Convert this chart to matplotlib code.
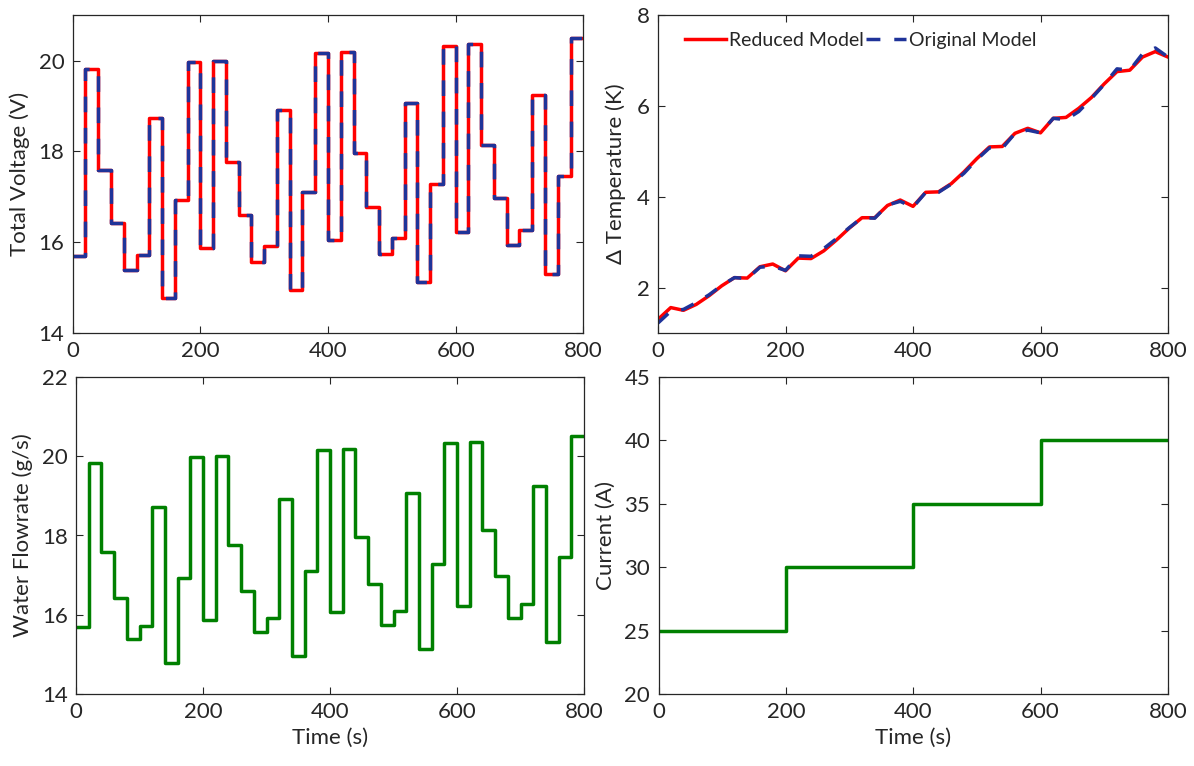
import numpy as np
import matplotlib
matplotlib.use("Agg")
import matplotlib.pyplot as plt

# ---------------- data ----------------
step_times = np.arange(0, 820, 20)  # segment edges 0..800

voltage = [15.70, 19.82, 17.59, 16.43, 15.38, 15.72, 18.73, 14.78, 16.92, 19.97,
           15.87, 20.00, 17.76, 16.61, 15.56, 15.91, 18.91, 14.95, 17.11, 20.16,
           16.06, 20.19, 17.96, 16.78, 15.75, 16.09, 19.07, 15.13, 17.28, 20.33,
           16.23, 20.37, 18.14, 16.97, 15.93, 16.28, 19.24, 15.31, 17.45, 20.50]

water_flow = [15.70, 19.83, 17.59, 16.43, 15.38, 15.72, 18.73, 14.78, 16.92, 19.97,
              15.87, 20.00, 17.76, 16.61, 15.56, 15.91, 18.91, 14.95, 17.11, 20.16,
              16.06, 20.19, 17.96, 16.78, 15.75, 16.09, 19.07, 15.13, 17.28, 20.33,
              16.23, 20.37, 18.14, 16.97, 15.93, 16.28, 19.24, 15.31, 17.45, 20.50]

temp_times = np.arange(0, 820, 20)
temp_reduced = [1.30, 1.56, 1.50, 1.63, 1.82, 2.04, 2.22, 2.21, 2.46, 2.52,
                2.37, 2.65, 2.64, 2.81, 3.05, 3.31, 3.54, 3.54, 3.81, 3.93,
                3.79, 4.10, 4.11, 4.29, 4.55, 4.84, 5.10, 5.11, 5.40, 5.51,
                5.41, 5.73, 5.75, 5.95, 6.19, 6.49, 6.76, 6.79, 7.08, 7.20, 7.08]
temp_original = [1.22, 1.48, 1.52, 1.67, 1.84, 2.05, 2.22, 2.20, 2.45, 2.47,
                 2.38, 2.70, 2.69, 2.86, 3.08, 3.32, 3.54, 3.53, 3.82, 3.90,
                 3.77, 4.10, 4.10, 4.28, 4.52, 4.82, 5.08, 5.07, 5.40, 5.47,
                 5.41, 5.73, 5.70, 5.88, 6.17, 6.48, 6.82, 6.79, 7.15, 7.28, 7.08]

current_times = [0, 200, 400, 600, 800]
current = [25, 30, 35, 40]

# ---------------- style ----------------
plt.rcParams['font.family'] = ['Lato', 'DejaVu Sans']
plt.rcParams['font.size'] = 16
TXT = '#262626'
RED = '#ff0000'
BLUE = '#1f3399'
GREEN = '#008000'
LW = 2.5

fig = plt.figure(figsize=(11.94, 7.66), dpi=100)
W, H = 1194, 766

def add_ax(x0, x1, y0, y1):
    return fig.add_axes([x0 / W, 1 - y1 / H, (x1 - x0) / W, (y1 - y0) / H])

ax1 = add_ax(72.7, 583.3, 15.3, 333)
ax2 = add_ax(658, 1168, 15.3, 333)
ax3 = add_ax(76, 584, 377, 694)
ax4 = add_ax(658.5, 1168, 377, 694)

def stairs(vals):
    v = list(vals) + [vals[-1]]
    return step_times, v

for ax in (ax1, ax2, ax3, ax4):
    for s in ax.spines.values():
        s.set_color(TXT)
        s.set_linewidth(0.9)
    ax.tick_params(direction='in', top=True, right=True, length=5,
                   width=0.8, colors=TXT, labelsize=16, pad=6)
    ax.set_xlim(0, 800)
    ax.set_xticks([0, 200, 400, 600, 800])

# top-left
x, y = stairs(voltage)
ax1.step(x, y, where='post', color=RED, lw=LW)
ax1.step(x, y, where='post', color=BLUE, lw=LW, linestyle=(0, (4.5, 4.5)))
ax1.set_ylim(14, 21)
ax1.set_yticks([14, 16, 18, 20])
ax1.set_ylabel('Total Voltage (V)', color=TXT, labelpad=6)

# top-right
ax2.plot(temp_times, temp_reduced, color=RED, lw=LW, label='Reduced Model')
ax2.plot(temp_times, temp_original, color=BLUE, lw=LW, linestyle=(0, (4, 4)),
         label='Original Model')
ax2.set_ylim(1, 8)
ax2.set_yticks([2, 4, 6, 8])
ax2.set_ylabel('\u0394 Temperature (K)', color=TXT, labelpad=8)
leg = ax2.legend(loc='upper left', ncol=2, frameon=False, fontsize=14,
                 handlelength=2.1, handletextpad=0.15, columnspacing=0.1,
                 bbox_to_anchor=(0.03, 0.985), borderaxespad=0.2)
for t in leg.get_texts():
    t.set_color(TXT)

# bottom-left
x, y = stairs(water_flow)
ax3.step(x, y, where='post', color=GREEN, lw=LW)
ax3.set_ylim(14, 22)
ax3.set_yticks([14, 16, 18, 20, 22])
ax3.set_ylabel('Water Flowrate (g/s)', color=TXT, labelpad=6)
ax3.set_xlabel('Time (s)', color=TXT, labelpad=4)

# bottom-right
ax4.step(current_times, current + [current[-1]], where='post', color=GREEN, lw=LW)
ax4.set_ylim(20, 45)
ax4.set_yticks([20, 25, 30, 35, 40, 45])
ax4.set_ylabel('Current (A)', color=TXT, labelpad=6)
ax4.set_xlabel('Time (s)', color=TXT, labelpad=4)

fig.savefig('out.png', dpi=100)
